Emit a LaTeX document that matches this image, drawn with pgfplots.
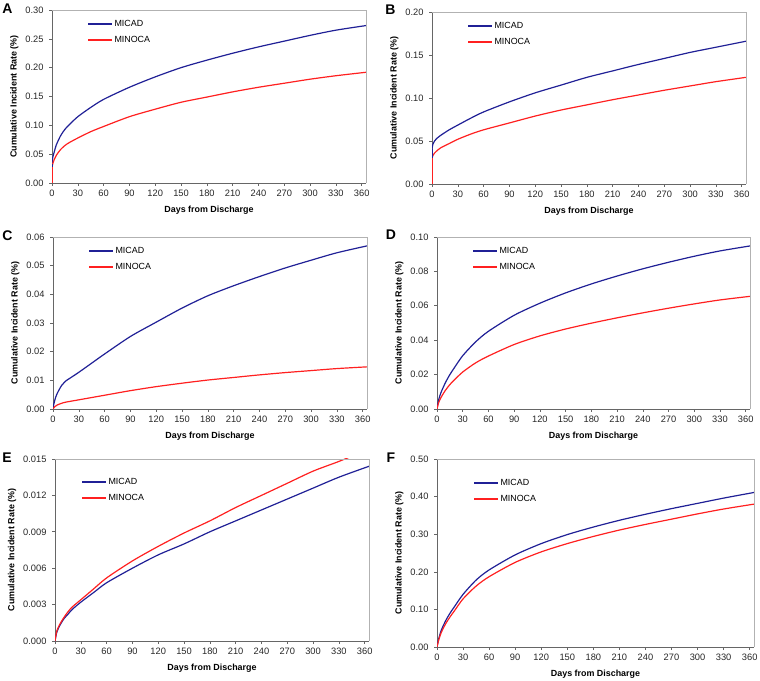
\documentclass[border=0pt]{standalone}
\usepackage{pgfplots}
\pgfplotsset{compat=1.18}
\usepackage{fontspec}
\setmainfont{Liberation Sans}
\definecolor{micad}{RGB}{32,32,150}
\definecolor{minoca}{RGB}{255,32,32}
\pgfplotsset{
  panel/.style={
    scale only axis, anchor=south west,
    xmin=0, xmax=365, xtick={0,30,...,360}, enlargelimits=false,
    axis x line*=bottom, axis y line*=left,
    axis line style={-, draw=black!60, line width=0.7pt},
    tick align=outside, major tick length=3pt,
    tick style={draw=black!60, line width=0.6pt},
    minor tick num=0,
    ticklabel style={font=\fontsize{9.3}{11}\selectfont, text=black!85},
    xlabel={Days from Discharge}, ylabel={Cumulative Incident Rate (\%)},
    label style={font=\bfseries\fontsize{8.9}{10}\selectfont},
    xlabel style={yshift=-3pt},
    /pgf/number format/assume math mode=true,
    scaled y ticks=false,
    yticklabel style={/pgf/number format/fixed, /pgf/number format/fixed zerofill, /pgf/number format/precision=2, xshift=-2pt},
    legend style={at={(axis description cs:0,1)}, anchor=north west, xshift=35pt, yshift=-8.5pt,
      draw=none, fill=none, inner sep=0pt, row sep=5pt,
      font=\fontsize{8.9}{10}\selectfont, nodes={inner sep=1.5pt, text=black}},
    legend cell align=left,
    after end axis/.code={\draw[black!30, line width=0.7pt] (rel axis cs:0,1) -- (rel axis cs:1,1) -- (rel axis cs:1,0);},
  },
  mi/.style={color=micad, line width=1.2pt, smooth, tension=0.45,
    legend image code/.code={\draw[color=micad, line width=1.8pt] (0pt,0pt) -- (24pt,0pt);}},
  mn/.style={color=minoca, line width=1.2pt, smooth, tension=0.45,
    legend image code/.code={\draw[color=minoca, line width=1.8pt] (0pt,0pt) -- (24pt,0pt);}},
}
\begin{document}
\begin{tikzpicture}[x=1pt,y=1pt]
\useasboundingbox (0,0) rectangle (760,680);
\def\lettfont{\bfseries\fontsize{14}{14}\selectfont}
\node[font=\lettfont] at (7.5,671.5) {A};
\node[font=\lettfont] at (390.5,670.5) {B};
\node[font=\lettfont] at (7.5,444.5) {C};
\node[font=\lettfont] at (391,445.5) {D};
\node[font=\lettfont] at (7,222) {E};
\node[font=\lettfont] at (391,222) {F};

% A
\begin{axis}[panel, at={(52pt,497pt)}, width=314pt, height=173pt,
  ymin=0, ymax=0.30, ytick={0,0.05,0.10,0.15,0.20,0.25,0.30}]
\addplot[mi] coordinates {(0,0.033)(1,0.045)(3,0.056)(5,0.066)(10,0.082)(15,0.093)(20,0.101)(30,0.115)(45,0.131)(60,0.145)(90,0.166)(120,0.184)(150,0.200)(180,0.213)(210,0.225)(240,0.236)(270,0.246)(300,0.256)(330,0.265)(365,0.273)};
\addlegendentry{MICAD}
\addplot[mn] coordinates {(0,0.027)(1,0.034)(3,0.042)(5,0.048)(10,0.058)(15,0.065)(20,0.070)(30,0.078)(45,0.089)(60,0.098)(90,0.115)(120,0.128)(150,0.140)(180,0.149)(210,0.158)(240,0.166)(270,0.173)(300,0.180)(330,0.186)(365,0.192)};
\addlegendentry{MINOCA}
\addplot[mi, sharp plot, forget plot] coordinates {(0,0)(0,0.033)};
\addplot[mn, sharp plot, forget plot] coordinates {(0,0)(0,0.027)};
\end{axis}

% B
\begin{axis}[panel, at={(432pt,496pt)}, width=314pt, height=172pt,
  ymin=0, ymax=0.20, ytick={0,0.05,0.10,0.15,0.20}]
\addplot[mi] coordinates {(0,0.041)(1,0.046)(3,0.050)(5,0.0525)(10,0.0565)(20,0.063)(30,0.0685)(45,0.0765)(60,0.0838)(90,0.0955)(120,0.106)(150,0.115)(180,0.124)(210,0.1315)(240,0.139)(270,0.146)(300,0.153)(330,0.159)(365,0.166)};
\addlegendentry{MICAD}
\addplot[mn] coordinates {(0,0.030)(1,0.033)(3,0.036)(5,0.038)(10,0.042)(20,0.047)(30,0.052)(45,0.058)(60,0.063)(90,0.071)(120,0.079)(150,0.086)(180,0.092)(210,0.098)(240,0.1035)(270,0.109)(300,0.114)(330,0.119)(365,0.124)};
\addlegendentry{MINOCA}
\addplot[mi, sharp plot, forget plot] coordinates {(0,0)(0,0.041)};
\addplot[mn, sharp plot, forget plot] coordinates {(0,0)(0,0.030)};
\end{axis}

% C
\begin{axis}[panel, at={(53pt,271pt)}, width=314pt, height=172pt,
  ymin=0, ymax=0.06, ytick={0,0.01,0.02,0.03,0.04,0.05,0.06}]
\addplot[mi] coordinates {(0,0)(1,0.0018)(3,0.004)(5,0.0055)(8,0.0072)(10,0.0082)(15,0.0098)(20,0.0108)(30,0.0128)(45,0.0160)(60,0.0192)(90,0.0253)(120,0.0303)(150,0.0352)(180,0.0395)(210,0.0430)(240,0.0462)(270,0.0492)(300,0.0519)(330,0.0545)(365,0.0569)};
\addlegendentry{MICAD}
\addplot[mn] coordinates {(0,0)(2,0.0008)(5,0.0014)(10,0.002)(15,0.0024)(30,0.0032)(60,0.0048)(90,0.0064)(120,0.0078)(150,0.009)(180,0.0101)(210,0.011)(240,0.0119)(270,0.0127)(300,0.0134)(330,0.0141)(365,0.0147)};
\addlegendentry{MINOCA}
\end{axis}

% D
\begin{axis}[panel, at={(437pt,271pt)}, width=313pt, height=172pt,
  ymin=0, ymax=0.10, ytick={0,0.02,0.04,0.06,0.08,0.10}]
\addplot[mi] coordinates {(0,0)(2,0.0055)(5,0.010)(10,0.0155)(15,0.020)(20,0.0238)(30,0.0310)(45,0.0390)(60,0.0452)(90,0.0545)(120,0.0615)(150,0.0675)(180,0.0727)(210,0.0773)(240,0.0815)(270,0.0853)(300,0.0888)(330,0.0919)(365,0.0948)};
\addlegendentry{MICAD}
\addplot[mn] coordinates {(0,0)(2,0.0038)(5,0.007)(10,0.011)(15,0.0142)(20,0.0168)(30,0.0215)(45,0.0268)(60,0.0308)(90,0.0375)(120,0.0425)(150,0.0465)(180,0.0499)(210,0.0530)(240,0.0559)(270,0.0586)(300,0.0611)(330,0.0634)(365,0.0655)};
\addlegendentry{MINOCA}
\end{axis}

% E
\begin{axis}[panel, at={(55pt,39pt)}, width=314pt, height=182pt,
  ymin=0, ymax=0.015, ytick={0,0.003,0.006,0.009,0.012,0.015},
  yticklabel style={/pgf/number format/precision=3},
  legend style={xshift=-9pt, yshift=-9pt}]
\addplot[mi] coordinates {(0,0)(2,0.0007)(5,0.0012)(10,0.0018)(15,0.0022)(20,0.0026)(30,0.0032)(45,0.0040)(60,0.0048)(90,0.0060)(120,0.0071)(150,0.0080)(180,0.0090)(210,0.0099)(240,0.0108)(270,0.0117)(300,0.0126)(330,0.0135)(365,0.0144)};
\addlegendentry{MICAD}
\addplot[mn] coordinates {(0,0)(2,0.0008)(5,0.0013)(10,0.0019)(15,0.0024)(20,0.0028)(30,0.0034)(45,0.0043)(60,0.0052)(90,0.0066)(120,0.0078)(150,0.0089)(180,0.0099)(210,0.0110)(240,0.0120)(270,0.0130)(300,0.0140)(330,0.0148)(365,0.0158)};
\addlegendentry{MINOCA}
\end{axis}

% F
\begin{axis}[panel, at={(437pt,33pt)}, width=317pt, height=188pt,
  ymin=0, ymax=0.50, ytick={0,0.10,0.20,0.30,0.40,0.50},
  legend style={xshift=1pt, yshift=-10pt}]
\addplot[mi] coordinates {(0,0)(2,0.022)(5,0.045)(10,0.070)(15,0.090)(20,0.107)(30,0.140)(45,0.178)(60,0.205)(90,0.245)(120,0.275)(150,0.299)(180,0.319)(210,0.337)(240,0.353)(270,0.368)(300,0.382)(330,0.396)(365,0.411)};
\addlegendentry{MICAD}
\addplot[mn] coordinates {(0,0)(2,0.019)(5,0.039)(10,0.062)(15,0.080)(20,0.096)(30,0.128)(45,0.162)(60,0.187)(90,0.225)(120,0.253)(150,0.275)(180,0.294)(210,0.311)(240,0.326)(270,0.340)(300,0.354)(330,0.367)(365,0.380)};
\addlegendentry{MINOCA}
\end{axis}
\end{tikzpicture}
\end{document}
